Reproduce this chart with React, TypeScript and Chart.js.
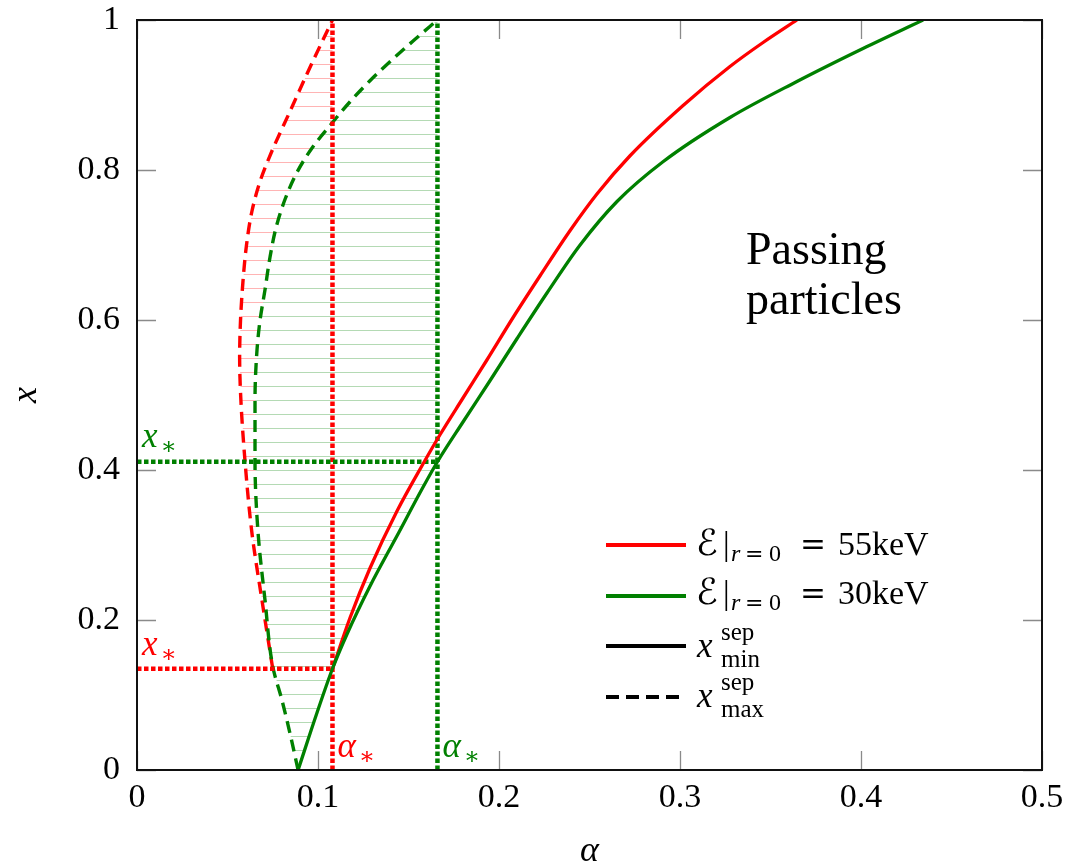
import React, { useEffect, useRef } from 'react';
import { Chart, registerables } from 'chart.js';

Chart.register(...registerables);

const RED = '#ff0000';
const GREEN = '#008000';
const RED_HATCH = '#ffb4b4';
const GREEN_HATCH = '#b4dab4';
const SERIF = "'Liberation Serif', 'DejaVu Serif', serif";
const MATHSYM = "'DejaVu Serif', 'DejaVu Sans', serif";

// axis ticks
const xTickValues = [0, 0.1, 0.2, 0.3, 0.4, 0.5];
const xTickLabels = ['0', '0.1', '0.2', '0.3', '0.4', '0.5'];
const yTickValues = [0, 0.2, 0.4, 0.6, 0.8, 1];
const yTickLabels = ['0', '0.2', '0.4', '0.6', '0.8', '1'];

// critical values (alpha*, x*)
const alphaStarRed = 0.108;
const xStarRed = 0.135;
const alphaStarGreen = 0.166;
const xStarGreen = 0.411;

// E|r=0 = 55 keV : x_min^sep  [alpha, x]
const redMinSep: [number, number][] = [
  [0.108, 0.135], [0.1177, 0.203], [0.1287, 0.269], [0.1436, 0.345], [0.158, 0.408],
  [0.1674, 0.447], [0.1801, 0.496], [0.1934, 0.547], [0.2077, 0.603], [0.2227, 0.659],
  [0.2392, 0.719], [0.2541, 0.768], [0.2724, 0.819], [0.3017, 0.886], [0.3276, 0.938],
  [0.3459, 0.97], [0.3646, 1.0],
];
// E|r=0 = 55 keV : x_max^sep
const redMaxSep: [number, number][] = [
  [0.075, 0.135], [0.069, 0.227], [0.0635, 0.316], [0.0597, 0.411], [0.0574, 0.493],
  [0.0567, 0.55], [0.0572, 0.6], [0.0585, 0.65], [0.0605, 0.7], [0.0635, 0.745],
  [0.068, 0.785], [0.0745, 0.825], [0.0845, 0.878], [0.0956, 0.937], [0.108, 1.0],
];
// E|r=0 = 30 keV : x_min^sep
const greenMinSep: [number, number][] = [
  [0.089, 0], [0.0994, 0.076], [0.108, 0.135], [0.116, 0.181], [0.1287, 0.245],
  [0.1436, 0.312], [0.158, 0.377], [0.166, 0.411], [0.1801, 0.464], [0.195, 0.519],
  [0.2099, 0.575], [0.2265, 0.636], [0.2448, 0.7], [0.2652, 0.758], [0.2906, 0.811],
  [0.3276, 0.87], [0.3646, 0.918], [0.4011, 0.962], [0.4343, 1.0],
];
// E|r=0 = 30 keV : x_max^sep
const greenMaxSep: [number, number][] = [
  [0.089, 0], [0.0845, 0.049], [0.0801, 0.093], [0.0751, 0.137], [0.0707, 0.227],
  [0.0669, 0.316], [0.0652, 0.411], [0.0652, 0.493], [0.0663, 0.56], [0.068, 0.6],
  [0.0707, 0.64], [0.0735, 0.684], [0.0768, 0.723], [0.0818, 0.761], [0.0884, 0.797],
  [0.0972, 0.831], [0.1072, 0.861], [0.1177, 0.891], [0.1287, 0.919], [0.1409, 0.947],
  [0.153, 0.973], [0.166, 1.0],
];

const toXY = (arr: [number, number][]) => arr.map(([a, v]) => ({ x: a, y: v }));

function makeHatch(color: string): CanvasPattern | string {
  const c = document.createElement('canvas');
  c.width = 4;
  c.height = 14;
  const g = c.getContext('2d');
  if (!g) return color;
  g.fillStyle = color;
  g.fillRect(0, 8, 4, 1);
  const p = g.createPattern(c, 'repeat');
  return p || color;
}

type Part = { t: string; font: string; x?: number; dy?: number; dx?: number; stay?: boolean };

function drawRun(ctx: CanvasRenderingContext2D, x: number, y: number, parts: Part[]) {
  let cx = x;
  for (const p of parts) {
    ctx.font = p.font;
    if (p.x !== undefined) cx = p.x;
    if (p.dx) cx += p.dx;
    ctx.fillText(p.t, cx, y + (p.dy || 0));
    if (!p.stay) cx += ctx.measureText(p.t).width;
  }
  return cx;
}

const decorPlugin = {
  id: 'decor',
  afterDatasetsDraw(chart: any) {
    const { ctx, chartArea: a } = chart;
    const sx = chart.scales.x;
    const sy = chart.scales.y;
    ctx.save();

    // inner tick marks on all four sides
    const TL = 19;
    ctx.strokeStyle = '#8a8a8a';
    ctx.lineWidth = 1.3;
    ctx.beginPath();
    for (const t of sx.ticks) {
      const px = Math.round(sx.getPixelForValue(t.value)) + 0.5;
      ctx.moveTo(px, a.bottom);
      ctx.lineTo(px, a.bottom - TL);
      ctx.moveTo(px, a.top);
      ctx.lineTo(px, a.top + TL);
    }
    for (const t of sy.ticks) {
      const py = Math.round(sy.getPixelForValue(t.value)) + 0.5;
      ctx.moveTo(a.left, py);
      ctx.lineTo(a.left + TL, py);
      ctx.moveTo(a.right, py);
      ctx.lineTo(a.right - TL, py);
    }
    ctx.stroke();

    // frame
    ctx.strokeStyle = '#111';
    ctx.lineWidth = 2;
    ctx.strokeRect(a.left, a.top, a.right - a.left, a.bottom - a.top);

    ctx.textAlign = 'left';
    ctx.textBaseline = 'alphabetic';

    // x_* and alpha_* annotations
    const italic = `italic 35px ${SERIF}`;
    const star = `24px ${MATHSYM}`;
    ctx.fillStyle = GREEN;
    drawRun(ctx, a.left + 5, sy.getPixelForValue(xStarGreen) - 15, [
      { t: 'x', font: italic },
      { t: '\u2217', font: star, dy: 7, dx: 3 },
    ]);
    ctx.fillStyle = RED;
    drawRun(ctx, a.left + 5, sy.getPixelForValue(xStarRed) - 14, [
      { t: 'x', font: italic },
      { t: '\u2217', font: star, dy: 7, dx: 3 },
    ]);
    drawRun(ctx, sx.getPixelForValue(alphaStarRed) + 5, a.bottom - 13, [
      { t: '\u03b1', font: italic },
      { t: '\u2217', font: star, dy: 7, dx: 3 },
    ]);
    ctx.fillStyle = GREEN;
    drawRun(ctx, sx.getPixelForValue(alphaStarGreen) + 5, a.bottom - 13, [
      { t: '\u03b1', font: italic },
      { t: '\u2217', font: star, dy: 7, dx: 3 },
    ]);

    // region text
    ctx.fillStyle = '#000';
    ctx.font = `46px ${SERIF}`;
    ctx.fillText('Passing', 746, 264);
    ctx.fillText('particles', 746, 314);

    // legend
    const lineX0 = 606;
    const lineX1 = 686;
    const rows = [545, 596, 646, 697];
    const legendStyles = [
      { color: RED, dash: [] as number[] },
      { color: GREEN, dash: [] as number[] },
      { color: '#000', dash: [] as number[] },
      { color: '#000', dash: [13, 7] },
    ];
    legendStyles.forEach((s, i) => {
      ctx.beginPath();
      ctx.strokeStyle = s.color;
      ctx.lineWidth = 4;
      ctx.lineCap = 'butt';
      ctx.setLineDash(s.dash);
      ctx.moveTo(lineX0, rows[i]);
      ctx.lineTo(lineX1, rows[i]);
      ctx.stroke();
    });
    ctx.setLineDash([]);
    ctx.fillStyle = '#000';
    const main = `33px ${SERIF}`;
    const val = `34px ${SERIF}`;
    const mainIt = `italic 35px ${SERIF}`;
    const sub = `24px ${SERIF}`;
    const subIt = `italic 24px ${SERIF}`;
    const cal = `36px ${MATHSYM}`;
    const eqMain = `31px ${MATHSYM}`;
    const eqSub = `22px ${MATHSYM}`;
    const energyRow = (baseline: number, value: string) =>
      drawRun(ctx, 697, baseline, [
        { t: '\u2130', font: cal, x: 696 },
        { t: '|', font: main, x: 723 },
        { t: 'r', font: subIt, x: 731, dy: 6 },
        { t: '=', font: eqSub, x: 745, dy: 6 },
        { t: '0', font: sub, x: 769, dy: 6 },
        { t: '=', font: eqMain, x: 800 },
        { t: value, font: val, x: 838 },
      ]);
    energyRow(555, '55keV');
    energyRow(604, '30keV');
    const sepRow = (baseline: number, lo: string) =>
      drawRun(ctx, 697, baseline, [
        { t: 'x', font: mainIt, x: 697 },
        { t: 'sep', font: `25px ${SERIF}`, x: 721, dy: -17, stay: true },
        { t: lo, font: `25px ${SERIF}`, x: 721, dy: 10 },
      ]);
    sepRow(657, 'min');
    sepRow(707, 'max');

    // axis titles
    ctx.font = `italic 36px ${SERIF}`;
    ctx.textAlign = 'center';
    ctx.fillText('\u03b1', (a.left + a.right) / 2, 861);
    ctx.save();
    ctx.translate(36, (a.top + a.bottom) / 2);
    ctx.rotate(-Math.PI / 2);
    ctx.fillText('x', 0, 0);
    ctx.restore();

    ctx.restore();
  },
};

export default function App() {
  const ref = useRef<HTMLCanvasElement | null>(null);

  useEffect(() => {
    if (!ref.current) return;
    const redPattern = makeHatch(RED_HATCH);
    const greenPattern = makeHatch(GREEN_HATCH);

    const redRegion: [number, number][] = [...redMaxSep, [alphaStarRed, 1], [alphaStarRed, xStarRed]];
    const greenRegion: [number, number][] = [
      ...greenMaxSep,
      [alphaStarGreen, 1],
      [alphaStarGreen, xStarGreen],
      ...greenMinSep.filter((p) => p[1] < xStarGreen).reverse(),
    ];

    const common = { showLine: true, pointRadius: 0, pointHoverRadius: 0, fill: false, borderCapStyle: 'butt' as const };
    const dotted = [4.5, 2.5];
    const dashed = [12, 7];

    const chart = new Chart(ref.current, {
      type: 'scatter',
      data: {
        datasets: [
          { ...common, label: 'hatch55', data: toXY(redRegion), borderColor: 'rgba(0,0,0,0)', borderWidth: 0, fill: 'shape', backgroundColor: redPattern as any, tension: 0, order: 20 },
          { ...common, label: 'hatch30', data: toXY(greenRegion), borderColor: 'rgba(0,0,0,0)', borderWidth: 0, fill: 'shape', backgroundColor: greenPattern as any, tension: 0, order: 19 },
          { ...common, label: 'xmax55', data: toXY(redMaxSep), indexAxis: 'y', cubicInterpolationMode: 'monotone', borderColor: RED, borderWidth: 3.4, borderDash: dashed, order: 9 },
          { ...common, label: 'xmax30', data: toXY(greenMaxSep), indexAxis: 'y', cubicInterpolationMode: 'monotone', borderColor: GREEN, borderWidth: 3.4, borderDash: dashed, order: 8 },
          { ...common, label: 'astar55', data: toXY([[alphaStarRed, 0], [alphaStarRed, 1]]), borderColor: RED, borderWidth: 4.5, borderDash: dotted, tension: 0, order: 7 },
          { ...common, label: 'xstar55', data: toXY([[0, xStarRed], [alphaStarRed, xStarRed]]), borderColor: RED, borderWidth: 4.5, borderDash: dotted, tension: 0, order: 7 },
          { ...common, label: 'astar30', data: toXY([[alphaStarGreen, 0], [alphaStarGreen, 1]]), borderColor: GREEN, borderWidth: 4.5, borderDash: dotted, tension: 0, order: 6 },
          { ...common, label: 'xstar30', data: toXY([[0, xStarGreen], [alphaStarGreen, xStarGreen]]), borderColor: GREEN, borderWidth: 4.5, borderDash: dotted, tension: 0, order: 6 },
          { ...common, label: 'xmin55', data: toXY(redMinSep), cubicInterpolationMode: 'monotone', borderColor: RED, borderWidth: 3.3, order: 3 },
          { ...common, label: 'xmin30', data: toXY(greenMinSep), cubicInterpolationMode: 'monotone', borderColor: GREEN, borderWidth: 3.3, order: 2 },
        ],
      } as any,
      options: {
        animation: false,
        responsive: false,
        maintainAspectRatio: false,
        events: [],
        layout: { padding: { left: 0, right: 29, top: 20, bottom: 0 } },
        plugins: { legend: { display: false }, tooltip: { enabled: false } },
        scales: {
          x: {
            type: 'linear',
            min: 0,
            max: 0.5,
            grid: { display: false, drawTicks: false },
            border: { display: false },
            afterBuildTicks: (s: any) => {
              s.ticks = xTickValues.map((v) => ({ value: v }));
            },
            afterFit: (s: any) => {
              s.height = 95;
              s.paddingLeft = 0;
              s.paddingRight = 0;
              s.paddingTop = 0;
              s.paddingBottom = 0;
            },
            ticks: {
              padding: 8,
              color: '#000',
              autoSkip: false,
              maxRotation: 0,
              font: { family: SERIF, size: 34, lineHeight: 1.2 },
              callback: (_v: any, i: number) => xTickLabels[i],
            },
          },
          y: {
            type: 'linear',
            min: 0,
            max: 1,
            grid: { display: false, drawTicks: false },
            border: { display: false },
            afterBuildTicks: (s: any) => {
              s.ticks = yTickValues.map((v) => ({ value: v }));
            },
            afterFit: (s: any) => {
              s.width = 137;
              s.paddingLeft = 0;
              s.paddingRight = 0;
              s.paddingTop = 0;
              s.paddingBottom = 0;
            },
            ticks: {
              padding: 17,
              color: '#000',
              autoSkip: false,
              font: { family: SERIF, size: 34, lineHeight: 1.2 },
              callback: (_v: any, i: number) => yTickLabels[i],
            },
          },
        },
      } as any,
      plugins: [decorPlugin],
    });
    return () => chart.destroy();
  }, []);

  return (
    <div style={{ position: 'absolute', left: 0, top: 0, width: 1071, height: 865, background: '#fff' }}>
      <canvas ref={ref} width={1071} height={865} style={{ display: 'block' }} />
    </div>
  );
}
